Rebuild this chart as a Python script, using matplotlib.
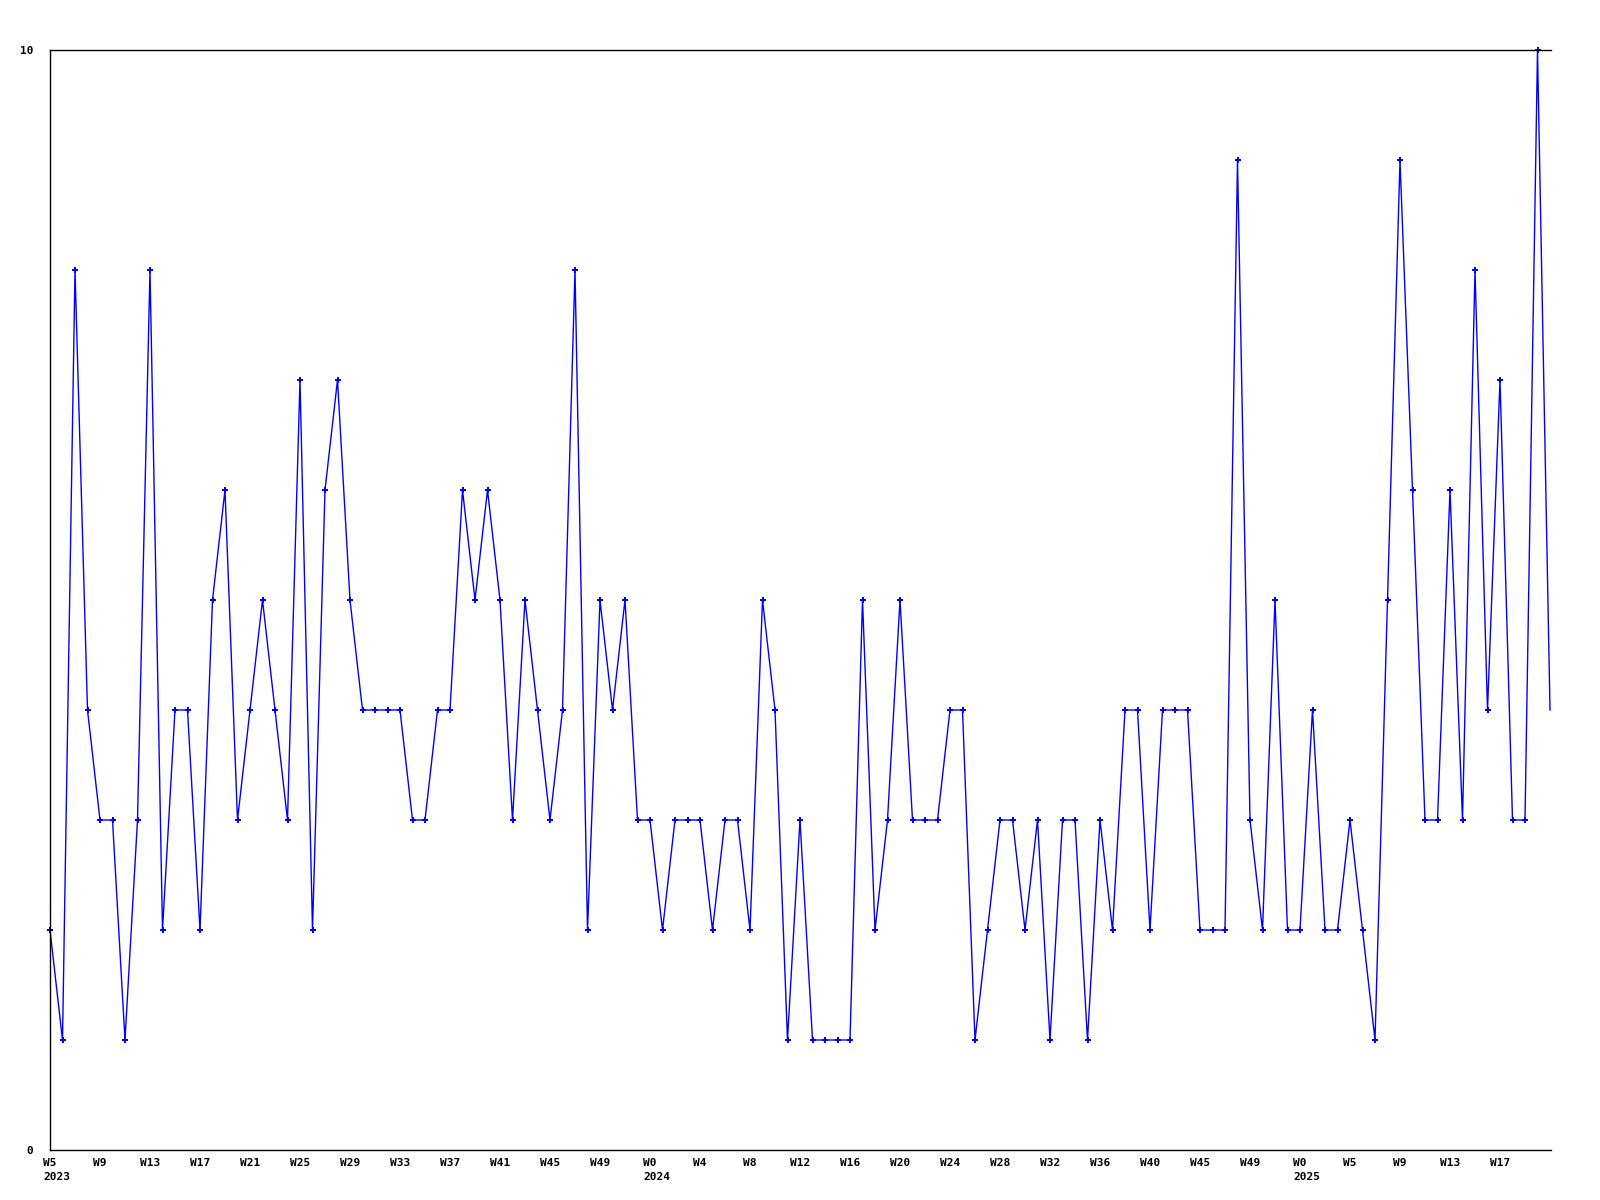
import matplotlib
matplotlib.use("Agg")
import matplotlib.pyplot as plt

# weekly values, W5 2023 onwards
values = [2, 1, 8, 4, 3, 3, 1, 3, 8, 2,
          4, 4, 2, 5, 6, 3, 4, 5, 4, 3,
          7, 2, 6, 7, 5, 4, 4, 4, 4, 3,
          3, 4, 4, 6, 5, 6, 5, 3, 5, 4,
          3, 4, 8, 2, 5, 4, 5, 3, 3, 2,
          3, 3, 3, 2, 3, 3, 2, 5, 4, 1,
          3, 1, 1, 1, 1, 5, 2, 3, 5, 3,
          3, 3, 4, 4, 1, 2, 3, 3, 2, 3,
          1, 3, 3, 1, 3, 2, 4, 4, 2, 4,
          4, 4, 2, 2, 2, 9, 3, 2, 5, 2,
          2, 4, 2, 2, 3, 2, 1, 5, 9, 6,
          3, 3, 6, 3, 8, 4, 7, 3, 3, 10,
          4]

week_labels = ["W5", "W9", "W13", "W17", "W21", "W25", "W29", "W33", "W37", "W41",
               "W45", "W49", "W0", "W4", "W8", "W12", "W16", "W20", "W24", "W28",
               "W32", "W36", "W40", "W45", "W49", "W0", "W5", "W9", "W13", "W17"]
year_labels = {0: "2023", 12: "2024", 25: "2025"}  # label index -> year

x = list(range(len(values)))
tick_pos = x[::4][:len(week_labels)]

fs = 8
font = {"family": "DejaVu Sans Mono", "weight": "bold", "size": fs}

fig = plt.figure(figsize=(16, 12), dpi=100)
ax = fig.add_axes([50 / 1600, 50 / 1200, 1501 / 1600, 1100 / 1200])

ax.plot(x, values, color="#0000ff", linewidth=1, marker="P", markersize=4.5,
        markeredgewidth=0, markevery=slice(0, len(values) - 1), clip_on=False)

ax.set_xlim(0, len(values) - 1 + 0.08)
ax.set_ylim(0, 10)
ax.set_yticks([0, 10])
ax.set_yticklabels(["0", "10"], fontdict=font)
ax.set_xticks(tick_pos)
ax.set_xticklabels(week_labels, fontdict=font)
ax.tick_params(axis="both", length=0)
ax.tick_params(axis="x", pad=6)
ax.tick_params(axis="y", pad=12)

for i, yr in year_labels.items():
    half = len(week_labels[i]) * 0.602 * fs / 2
    ax.annotate(yr, xy=(tick_pos[i], 0), xycoords="data",
                xytext=(-half, -16), textcoords="offset points",
                ha="left", va="top", **font)

for s in ["left", "bottom", "top"]:
    ax.spines[s].set_linewidth(1)
    ax.spines[s].set_color("black")
ax.spines["right"].set_visible(False)

fig.savefig("out.png", dpi=100, facecolor="white")
